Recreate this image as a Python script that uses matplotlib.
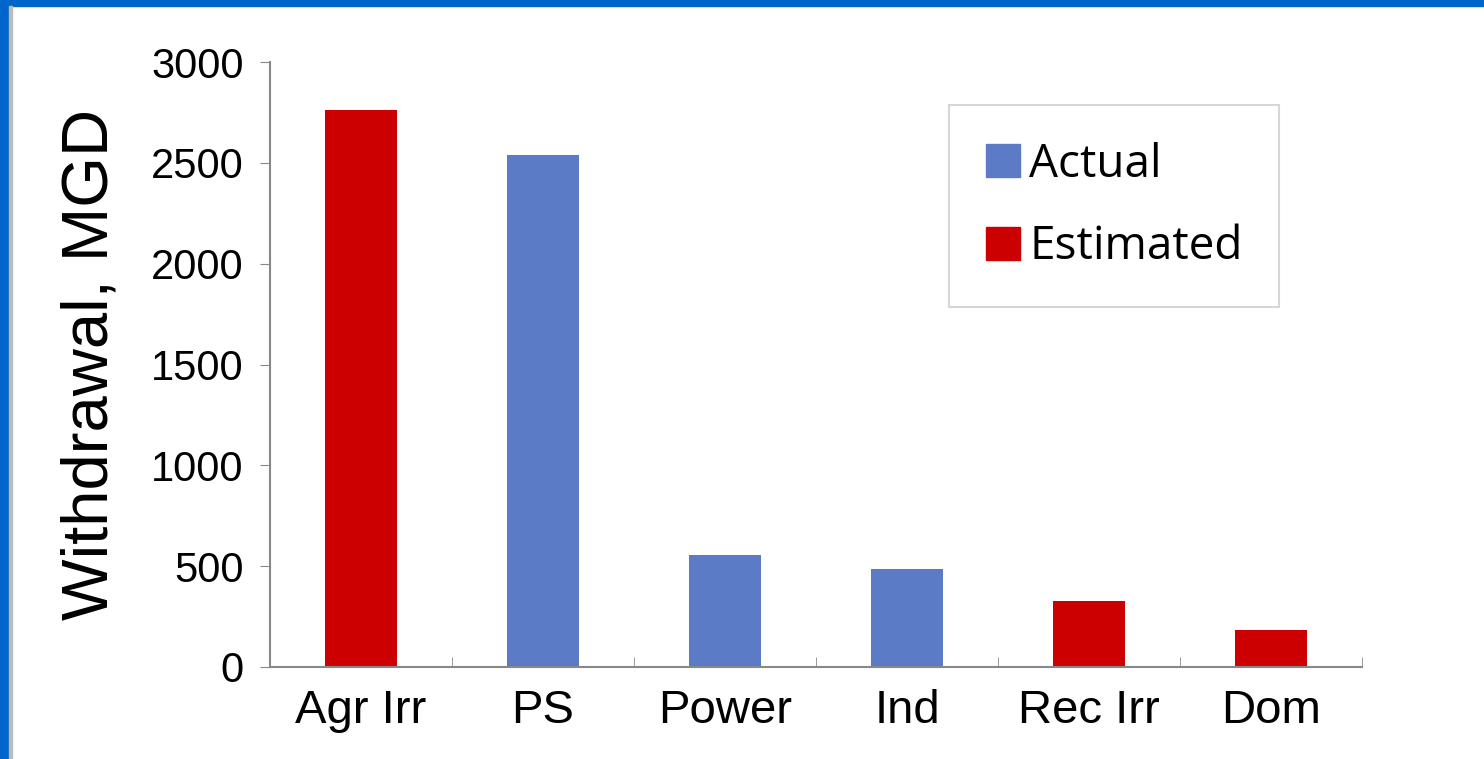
import matplotlib
matplotlib.use('Agg')
import matplotlib.pyplot as plt
from matplotlib.patches import Patch, Rectangle

categories = ['Agr Irr', 'PS', 'Power', 'Ind', 'Rec Irr', 'Dom']
values = [2762, 2539, 555, 486, 327, 183]
kinds = ['Estimated', 'Actual', 'Actual', 'Actual', 'Estimated', 'Estimated']
colors = {'Actual': '#5b7bc6', 'Estimated': '#cc0000'}

plt.rcParams['font.family'] = ['Liberation Sans', 'DejaVu Sans']

fig = plt.figure(figsize=(14.84, 7.59), dpi=100)
fig.patch.set_facecolor('white')
# blue frame on top and left
fig.add_artist(Rectangle((0, 1 - 6 / 759), 1, 6 / 759, transform=fig.transFigure, color='#0066cc'))
fig.add_artist(Rectangle((0, 0), 9 / 1484, 1, transform=fig.transFigure, color='#0066cc'))
fig.add_artist(Rectangle((9 / 1484, 0), 3 / 1484, 1 - 6 / 759, transform=fig.transFigure, color='#bbbbbb'))

ax = fig.add_axes([270 / 1484, 1 - 667 / 759, 1092 / 1484, 605 / 759])
x = range(len(categories))
ax.bar(x, values, width=0.4, color=[colors[k] for k in kinds], zorder=2)
ax.set_xlim(-0.5, len(categories) - 0.5)
ax.set_ylim(0, 3000)
ax.set_yticks(range(0, 3001, 500))
ax.set_xticks(list(x))
ax.set_xticklabels(categories, fontsize=34)
ax.set_xticks([i + 0.5 for i in range(-1, len(categories))], minor=True)
ax.tick_params(axis='x', which='major', length=0, pad=16)
ax.tick_params(axis='x', which='minor', length=7, direction='in', color='#888888')
ax.tick_params(axis='y', labelsize=30, length=7, direction='out', color='#888888', pad=12)
for s in ['top', 'right']:
    ax.spines[s].set_visible(False)
for s in ['left', 'bottom']:
    ax.spines[s].set_color('#888888')
    ax.spines[s].set_linewidth(1.5)
ax.set_ylabel('Withdrawal, MGD', fontsize=47, labelpad=22)

handles = [Patch(color=colors['Actual'], label='Actual'),
           Patch(color=colors['Estimated'], label='Estimated')]
leg = ax.legend(handles=handles, loc='upper left', bbox_to_anchor=(679 / 1092, 1 - 43 / 605),
                prop={'family': ['Open Sans', 'DejaVu Sans'], 'size': 33},
                frameon=True, fancybox=False, edgecolor='#cccccc', handlelength=0.75,
                handleheight=0.75, handletextpad=0.2, borderpad=0.8, labelspacing=0.8,
                borderaxespad=0)
leg.get_frame().set_linewidth(1.5)

fig.savefig('out.png', dpi=100)
